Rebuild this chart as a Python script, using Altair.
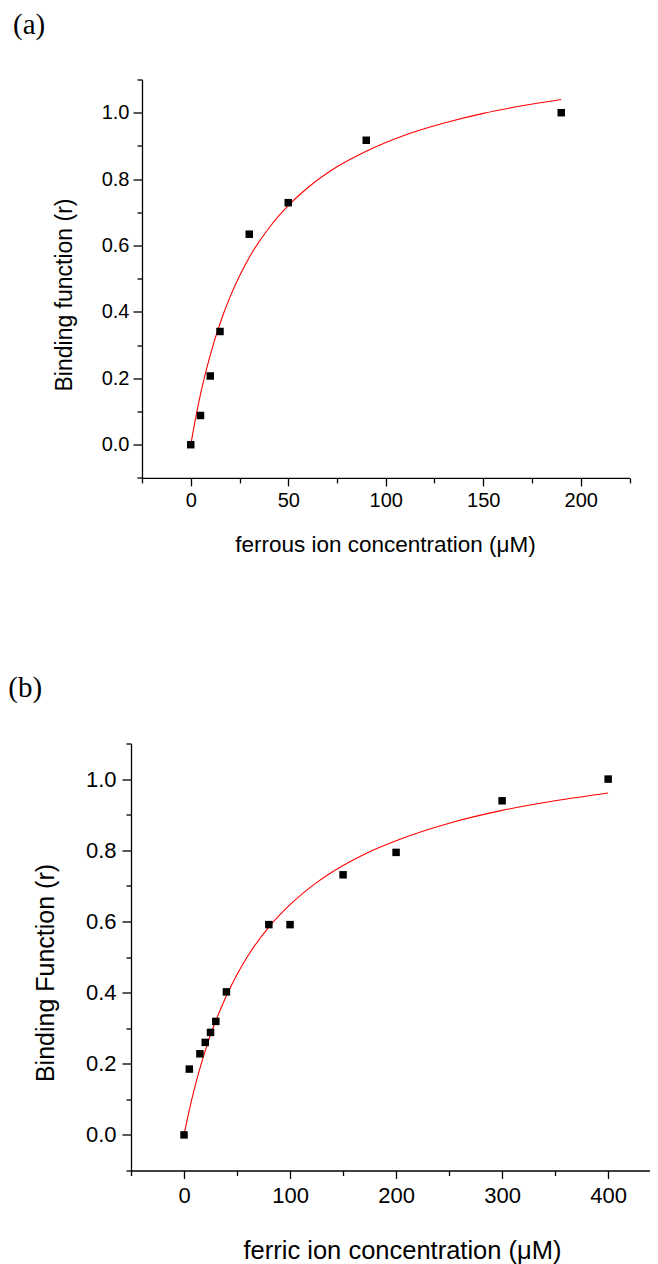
import altair as alt
import pandas as pd

# ---------------- data ----------------
# Panel (a): ferrous ion
a_conc = [0, 5, 10, 15, 30, 50, 90, 190]
a_r = [0.0, 0.088, 0.207, 0.341, 0.634, 0.729, 0.917, 1.0]
a_fit_conc = [0, 2, 5, 10, 15, 20, 25, 30, 40, 50, 60, 75, 90, 110, 130, 150, 170, 190]
a_fit_r = [0.0, 0.065, 0.152, 0.270, 0.365, 0.443, 0.508, 0.564, 0.652, 0.720,
           0.774, 0.837, 0.884, 0.933, 0.969, 0.998, 1.021, 1.040]

# Panel (b): ferric ion
b_conc = [0, 5, 15, 20, 25, 30, 40, 80, 100, 150, 200, 300, 400]
b_r = [0.0, 0.185, 0.228, 0.260, 0.288, 0.319, 0.402, 0.591, 0.591, 0.731, 0.794, 0.939, 1.0]
b_fit_conc = [0, 2, 5, 10, 15, 20, 25, 30, 40, 50, 60, 80, 100, 125, 150, 175, 200, 250, 300, 350, 400]
b_fit_r = [0.0, 0.029, 0.070, 0.132, 0.187, 0.236, 0.281, 0.321, 0.391, 0.451, 0.502,
           0.584, 0.647, 0.709, 0.757, 0.796, 0.827, 0.876, 0.912, 0.939, 0.961]

# tick values
y_ticks = [-0.1, 0.0, 0.1, 0.2, 0.3, 0.4, 0.5, 0.6, 0.7, 0.8, 0.9, 1.0, 1.1]
a_x_ticks = [-25, 0, 25, 50, 75, 100, 125, 150, 175, 200, 225]
b_x_ticks = [-50, 0, 50, 100, 150, 200, 250, 300, 350, 400]

SANS = "Liberation Sans"
SERIF = "Liberation Serif"


def y_axis(title, lab_fs, tit_fs, tx, ty, lpad, offset):
    major = "abs(round(datum.value*10)) % 2 === 0"
    return alt.Axis(
        title=title, values=y_ticks, grid=False, offset=offset,
        labelExpr=f"{major} ? format(datum.value, '.1f') : ''",
        tickSize={"condition": {"test": major, "value": 9}, "value": 5},
        domainColor="black", tickColor="black", domainWidth=1.3, tickWidth=1.3,
        labelFont=SANS, labelFontSize=lab_fs, labelColor="black", labelPadding=lpad,
        labelFlush=False, labelOverlap=False, labelBound=False,
        titleFont=SANS, titleFontSize=tit_fs, titleFontWeight="normal", titleColor="black",
        titleAngle=270, titleBaseline="bottom", titleAlign="center", titleX=tx, titleY=ty,
    )


def x_axis(title, values, step, lab_fs, tit_fs, tx, ty, lpad):
    major = f"round(datum.value) % {step} === 0"
    return alt.Axis(
        title=title, values=values, grid=False, orient="bottom",
        labelExpr=f"{major} ? format(datum.value, 'd') : ''",
        tickSize={"condition": {"test": major, "value": 8}, "value": 5},
        domainColor="black", tickColor="black", domainWidth=1.3, tickWidth=1.3,
        labelFont=SANS, labelFontSize=lab_fs, labelColor="black", labelPadding=lpad,
        labelFlush=False, labelOverlap=False, labelBound=False,
        titleFont=SANS, titleFontSize=tit_fs, titleFontWeight="normal", titleColor="black",
        titleBaseline="top", titleAlign="center", titleX=tx, titleY=ty,
    )


def panel(conc, r, fit_conc, fit_r, xdom, xrange, w, h, xax, yax, label, label_x, label_y, label_fs):
    pts = pd.DataFrame({"c": conc, "r": r})
    fit = pd.DataFrame({"c": fit_conc, "r": fit_r})
    xs = alt.Scale(domain=xdom, range=xrange, zero=False, nice=False)
    ys = alt.Scale(domain=[-0.1, 1.1], zero=False, nice=False)
    line = alt.Chart(fit).mark_line(color="#ff0000", strokeWidth=1.1, interpolate="monotone").encode(
        x=alt.X("c:Q", scale=xs, axis=xax),
        y=alt.Y("r:Q", scale=ys, axis=yax),
    )
    sq = alt.Chart(pts).mark_square(size=56, color="black", opacity=1).encode(
        x=alt.X("c:Q", scale=xs, axis=xax),
        y=alt.Y("r:Q", scale=ys, axis=yax),
    )
    lab_df = pd.DataFrame({"t": [label]})
    lab = alt.Chart(lab_df).mark_text(
        align="left", baseline="middle", font=SERIF, fontSize=label_fs, color="black"
    ).encode(x=alt.value(label_x), y=alt.value(label_y), text="t:N")
    return alt.layer(line, sq, lab).properties(width=w, height=h)


# panel (a): plot origin shared with (b); its axes start 11 px further right
pa = panel(
    a_conc, a_r, a_fit_conc, a_fit_r, [-25, 225], [11, 498.5], 498.5, 398.4,
    x_axis("ferrous ion concentration (\u03bcM)", a_x_ticks, 50, 20, 22.5, 254, 56, 5),
    y_axis("Binding function (r)", 20, 23, -65.3, 215, 4, -11),
    "(a)", -118, -54.3, 29,
)

pb = panel(
    b_conc, b_r, b_fit_conc, b_fit_r, [-50, 439], [0, 518.5], 518.5, 427,
    x_axis("ferric ion concentration (\u03bcM)", b_x_ticks, 100, 22, 25.5, 271, 68, 7),
    y_axis("Binding Function (r)", 22, 25, -72.4, 229, 6, 0),
    "(b)", -122.7, -55.8, 29,
)

chart = alt.concat(pa, pb, columns=1, spacing=117).properties(
    padding={"left": 0, "top": 2.5, "right": 0, "bottom": 0}
).configure_view(stroke=None)

chart.save("out.html", embed_options={"renderer": "svg", "actions": False})
